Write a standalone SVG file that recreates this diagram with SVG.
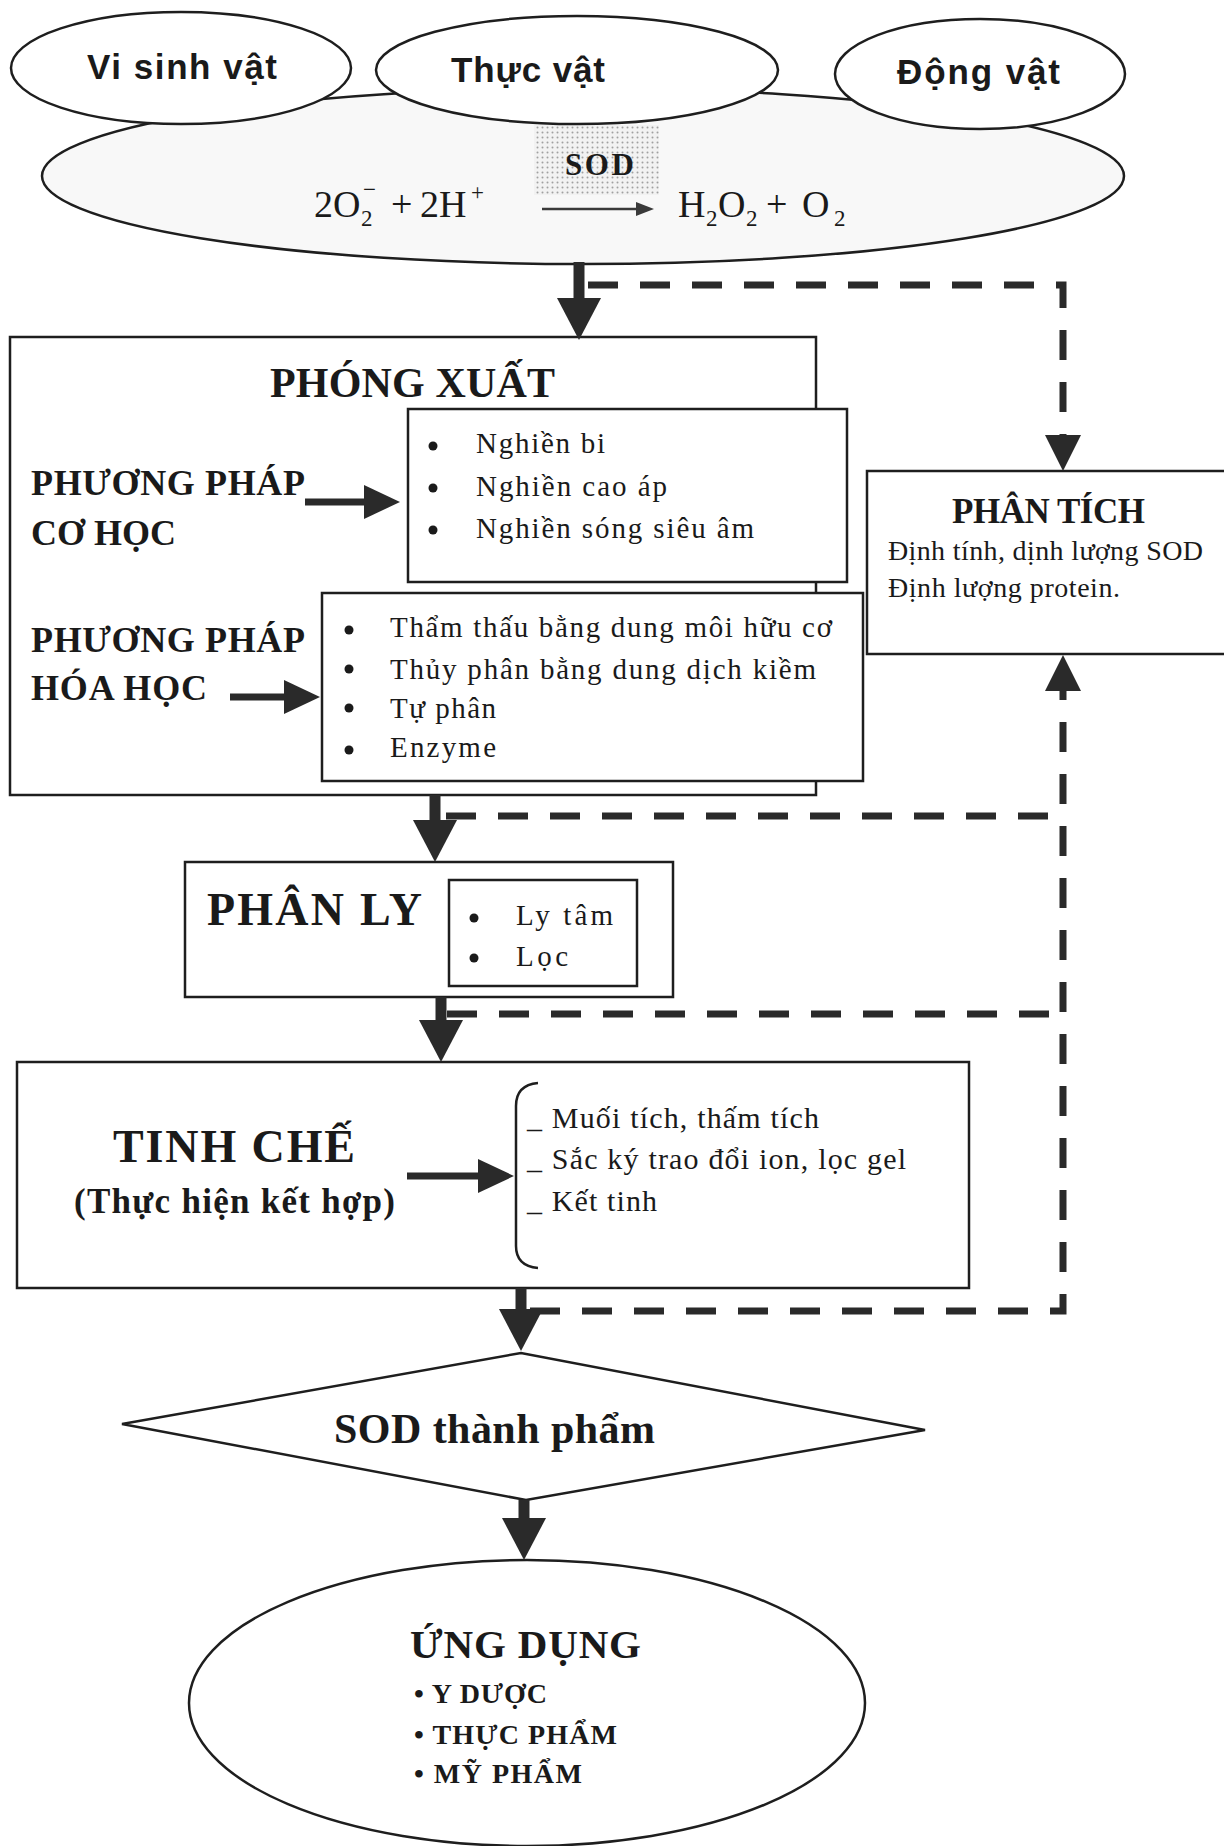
<svg xmlns="http://www.w3.org/2000/svg" width="1224" height="1846" viewBox="0 0 1224 1846">
<style>
.bg{fill:#ffffff}
.box{fill:#ffffff;stroke:#1e1e1e;stroke-width:2.5}
.ell{fill:#ffffff;stroke:#1e1e1e;stroke-width:2.5}
.sans{font-family:"Liberation Sans",Arial,sans-serif;font-weight:bold;fill:#1a1a1a}
.ser{font-family:"Liberation Serif","Times New Roman",serif;fill:#1a1a1a}
.b{font-weight:bold}
.body{font-size:29px}
.shaft{stroke:#2a2a2a;fill:none}
.dash{stroke:#2a2a2a;stroke-width:7;fill:none;stroke-dasharray:30 22}
.dot{fill:#1a1a1a}
</style>
<defs>
<pattern id="dots" width="5" height="5" patternUnits="userSpaceOnUse">
<rect width="5" height="5" fill="#f2f2f2"/>
<circle cx="2.5" cy="2.5" r="1" fill="#a0a0a0"/>
</pattern>
<marker id="vh" markerUnits="userSpaceOnUse" markerWidth="42" markerHeight="44" viewBox="0 0 42 44" refX="0" refY="22" orient="auto">
<path d="M0,0 L42,22 L0,44 Z" fill="#2a2a2a"/>
</marker>
<marker id="hh" markerUnits="userSpaceOnUse" markerWidth="36" markerHeight="34" viewBox="0 0 36 34" refX="0" refY="17" orient="auto">
<path d="M0,0 L36,17 L0,34 Z" fill="#2a2a2a"/>
</marker>
<marker id="dh" markerUnits="userSpaceOnUse" markerWidth="36" markerHeight="36" viewBox="0 0 36 36" refX="0" refY="18" orient="auto">
<path d="M0,0 L36,18 L0,36 Z" fill="#2a2a2a"/>
</marker>
<marker id="sh" markerUnits="userSpaceOnUse" markerWidth="18" markerHeight="14" viewBox="0 0 18 14" refX="0" refY="7" orient="auto">
<path d="M0,0 L18,7 L0,14 Z" fill="#3a3a3a"/>
</marker>
</defs>
<rect class="bg" x="0" y="0" width="1224" height="1846"/>

<g id="node-sod-reaction">
<ellipse cx="583" cy="176" rx="541" ry="88" fill="#f8f8f8" stroke="#1e1e1e" stroke-width="2.5"/>
<rect x="534" y="125" width="125" height="70" fill="url(#dots)"/>
<text class="ser b" x="565" y="175" font-size="31" textLength="69">SOD</text>
<path d="M542,209 H636" stroke="#3a3a3a" stroke-width="2.5" fill="none" marker-end="url(#sh)"/>
<text class="ser" font-size="38"><tspan x="314" y="217">2O</tspan><tspan x="361" y="226" font-size="23">2</tspan><tspan x="363" y="197" font-size="23">−</tspan><tspan x="391" y="217">+</tspan><tspan x="420" y="217">2H</tspan><tspan x="471" y="200" font-size="23">+</tspan><tspan x="678" y="217">H</tspan><tspan x="706" y="226" font-size="23">2</tspan><tspan x="718" y="217">O</tspan><tspan x="746" y="226" font-size="23">2</tspan><tspan x="766" y="217">+</tspan><tspan x="802" y="217">O</tspan><tspan x="834" y="226" font-size="23">2</tspan></text>
</g>

<g id="node-vi-sinh-vat">
<ellipse class="ell" cx="181" cy="68" rx="170" ry="56"/>
<text class="sans" x="87" y="79" font-size="35" textLength="190">Vi sinh vật</text>
</g>
<g id="node-thuc-vat">
<ellipse class="ell" cx="577" cy="70" rx="201" ry="54"/>
<text class="sans" x="451" y="82" font-size="35" textLength="154">Thực vật</text>
</g>
<g id="node-dong-vat">
<ellipse class="ell" cx="980" cy="74" rx="145" ry="55"/>
<text class="sans" x="897" y="84" font-size="35" textLength="163">Động vật</text>
</g>

<g id="node-phong-xuat">
<rect class="box" x="10" y="337" width="806" height="458"/>
<text class="ser b" x="270" y="397" font-size="42" textLength="285">PHÓNG XUẤT</text>
<text class="ser b" x="31" y="495" font-size="36" textLength="274">PHƯƠNG PHÁP</text>
<text class="ser b" x="31" y="545" font-size="36" textLength="145">CƠ HỌC</text>
<text class="ser b" x="31" y="652" font-size="36" textLength="274">PHƯƠNG PHÁP</text>
<text class="ser b" x="31" y="700" font-size="36" textLength="176">HÓA HỌC</text>
</g>
<g id="node-co-hoc">
<rect class="box" x="408" y="409" width="439" height="173"/>
<circle class="dot" cx="433" cy="446" r="4.5"/>
<circle class="dot" cx="433" cy="488" r="4.5"/>
<circle class="dot" cx="433" cy="530" r="4.5"/>
<text class="ser body" x="476" y="453" textLength="129">Nghiền bi</text>
<text class="ser body" x="476" y="496" textLength="191">Nghiền cao áp</text>
<text class="ser body" x="476" y="538" textLength="278">Nghiền sóng siêu âm</text>
</g>
<g id="node-hoa-hoc">
<rect class="box" x="322" y="593" width="541" height="188"/>
<circle class="dot" cx="349" cy="630" r="4.5"/>
<circle class="dot" cx="349" cy="669" r="4.5"/>
<circle class="dot" cx="349" cy="708" r="4.5"/>
<circle class="dot" cx="349" cy="750" r="4.5"/>
<text class="ser body" x="390" y="637" textLength="442">Thẩm thấu bằng dung môi hữu cơ</text>
<text class="ser body" x="390" y="679" textLength="426">Thủy phân bằng dung dịch kiềm</text>
<text class="ser body" x="390" y="718" textLength="106">Tự phân</text>
<text class="ser body" x="390" y="757" textLength="106">Enzyme</text>
</g>

<g id="node-phan-tich">
<rect class="box" x="867" y="471" width="370" height="183"/>
<text class="ser b" x="952" y="523" font-size="35" textLength="193">PHÂN TÍCH</text>
<text class="ser" x="888" y="560" font-size="28" textLength="315">Định tính, dịnh lượng SOD</text>
<text class="ser" x="888" y="597" font-size="28" textLength="232">Định lượng protein.</text>
</g>

<g id="node-phan-ly">
<rect class="box" x="185" y="862" width="488" height="135"/>
<text class="ser b" x="207" y="925" font-size="46" textLength="215">PHÂN LY</text>
<rect class="box" x="449" y="880" width="188" height="106"/>
<circle class="dot" cx="474" cy="918" r="4.5"/>
<circle class="dot" cx="474" cy="958" r="4.5"/>
<text class="ser body" x="516" y="925" textLength="97">Ly tâm</text>
<text class="ser body" x="516" y="966" textLength="52">Lọc</text>
</g>

<g id="node-tinh-che">
<rect class="box" x="17" y="1062" width="952" height="226"/>
<text class="ser b" x="113" y="1162" font-size="46" textLength="242">TINH CHẾ</text>
<text class="ser b" x="74" y="1213" font-size="35" textLength="321">(Thực hiện kết hợp)</text>
<path d="M538,1083 Q516,1085 516,1106 V1246 Q516,1266 538,1268" fill="none" stroke="#1e1e1e" stroke-width="2.5"/>
<text class="ser" font-size="30" x="527" y="1128" textLength="292">_ Muối tích, thấm tích</text>
<text class="ser" font-size="30" x="527" y="1169" textLength="379">_ Sắc ký trao đổi ion, lọc gel</text>
<text class="ser" font-size="30" x="527" y="1211" textLength="130">_ Kết tinh</text>
</g>

<g id="node-sod-thanh-pham">
<polygon class="box" points="122,1424 521,1353 925,1430 526,1500"/>
<text class="ser b" x="334" y="1443" font-size="42" textLength="321">SOD thành phẩm</text>
</g>

<g id="node-ung-dung">
<ellipse class="ell" cx="527" cy="1703" rx="338" ry="143"/>
<text class="ser b" x="410" y="1658" font-size="41" textLength="231">ỨNG DỤNG</text>
<text class="ser b" x="414" y="1703" font-size="28" textLength="133">• Y DƯỢC</text>
<text class="ser b" x="414" y="1744" font-size="28" textLength="203">• THỰC PHẨM</text>
<text class="ser b" x="414" y="1783" font-size="28" textLength="168">• MỸ PHẨM</text>
</g>

<g id="connectors">
<path class="shaft" d="M579,262 V298" stroke-width="11" marker-end="url(#vh)"/>
<path class="shaft" d="M435,795 V820" stroke-width="11" marker-end="url(#vh)"/>
<path class="shaft" d="M441,997 V1020" stroke-width="11" marker-end="url(#vh)"/>
<path class="shaft" d="M521,1288 V1309" stroke-width="11" marker-end="url(#vh)"/>
<path class="shaft" d="M524,1500 V1518" stroke-width="11" marker-end="url(#vh)"/>
<path class="shaft" d="M305,502 H364" stroke-width="7" marker-end="url(#hh)"/>
<path class="shaft" d="M230,697 H284" stroke-width="7" marker-end="url(#hh)"/>
<path class="shaft" d="M407,1176 H478" stroke-width="7" marker-end="url(#hh)"/>
<path class="dash" d="M588,285 H1063 V435" marker-end="url(#dh)"/>
<path class="dash" d="M446,816 H1063"/>
<path class="dash" d="M447,1014 H1063"/>
<path class="dash" d="M530,1311 H1063 V691" marker-end="url(#dh)"/>
</g>
</svg>
